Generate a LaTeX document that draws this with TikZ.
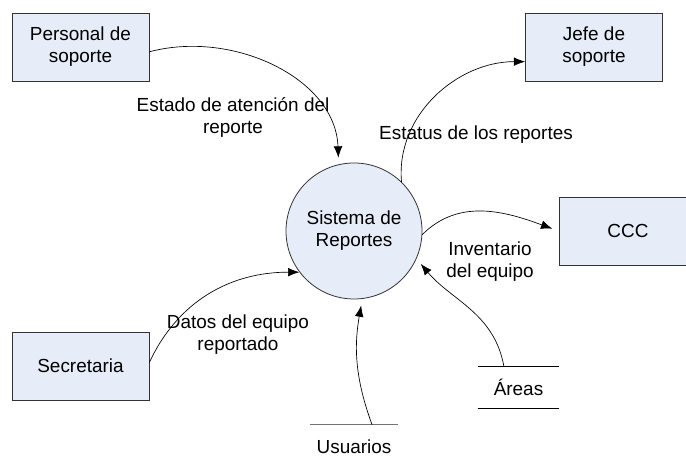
\documentclass[tikz,border=0pt]{standalone}
\usepackage{fontspec}
\setmainfont{Liberation Sans}
\usetikzlibrary{arrows.meta, shapes}
\definecolor{boxblue}{RGB}{230,236,248}

\begin{document}
\begin{tikzpicture}[x=0.75pt, y=0.75pt, font=\fontsize{14.2}{16.5}\selectfont,
  ent/.style={shape=rectangle, minimum height=51pt, minimum width=102.75pt, draw=black!80, line width=0.6pt, fill=boxblue, align=center},
  flow/.style={-{Latex[length=8.5pt,width=6.5pt]}, line width=0.5pt, draw=black},
  lbl/.style={align=center, inner sep=0pt}]
\clip (0,0) rectangle (686,466);
%external entities
\node[ent] (pers) at (80.5,419) {Personal de\\soporte};
\node[ent] (jefe) at (594,419) {Jefe de\\soporte};
\node[ent, minimum width=103.5pt] (ccc) at (628,235) {CCC};
\node[ent] (secr) at (80.5,100) {Secretaria};
%process
\node[shape=circle, minimum size=102pt, inner sep=0pt, draw=black!80, line width=0.6pt, fill=boxblue, align=center] (sys) at (354,235) {Sistema de\\Reportes};
%stores
\node[minimum width=60.75pt, minimum height=30.75pt, inner sep=0pt] (areas) at (518.5,78.5) {Áreas};
\draw[line width=0.6pt] (areas.north west) -- (areas.north east);
\draw[line width=0.6pt] (areas.south west) -- (areas.south east);
\node[minimum width=66pt, minimum height=33pt, inner sep=0pt] (usu) at (354,19) {Usuarios};
\draw[line width=1pt, black!55] (usu.north west) -- (usu.north east);
%%
\draw[flow, shorten >=5pt] (pers.-4) to[out=15,in=92] (sys.103);
\draw[flow] (sys.46) to[out=95,in=180] (jefe.192);
\draw[flow, shorten >=5pt] (sys.-3) to[out=45,in=160] (ccc.west);
\draw[flow, shorten >=5pt] (areas.125) to[out=100,in=-50] (sys.-24);
\draw[flow, shorten >=5pt] (usu.51) to[out=110,in=-100] (sys.-83);
\draw[flow] (secr.3) to[out=65,in=180] (sys.217);
\node[lbl] (lestado) at (233,348) {Estado de atención del\\reporte};
\node[lbl] (lestatus) at (476,331) {Estatus de los reportes};
\node[lbl] (linv) at (490,204) {Inventario\\del equipo};
\node[lbl] (ldatos) at (238,131) {Datos del equipo\\reportado};
\end{tikzpicture}
\end{document}
